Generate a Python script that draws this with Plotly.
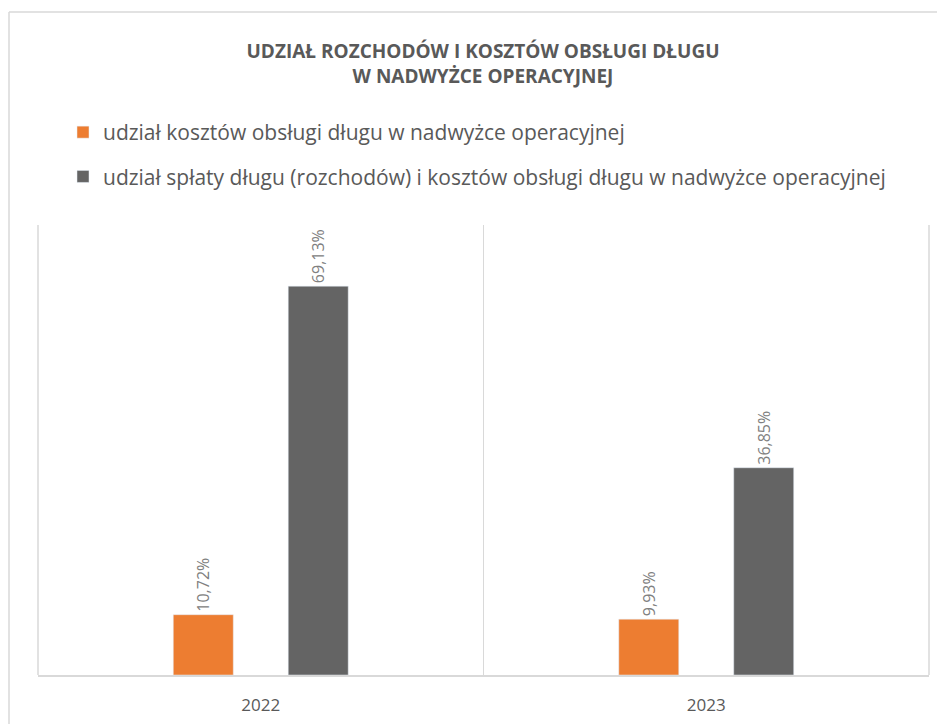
import plotly.graph_objects as go

years = ["2022", "2023"]
koszty = [10.72, 9.93]
splaty = [69.13, 36.85]
name_koszty = "udział kosztów obsługi długu w nadwyżce operacyjnej"
name_splaty = "udział spłaty długu (rozchodów) i kosztów obsługi długu w nadwyżce operacyjnej"
title_text = "UDZIAŁ ROZCHODÓW I KOSZTÓW OBSŁUGI DŁUGU<br>W NADWYŻCE OPERACYJNEJ"

FONT = "Open Sans"
W, H = 945, 724
OFF = 8  # page body margin offset
L, R, T, B = 38 - OFF, W - (929 - OFF), 225 - OFF, H - (675 - OFF)
PW, PH = W - L - R, H - T - B


def px_x(sx):
    return (sx - OFF - L) / PW


def px_y(sy):
    return (H - B - (sy - OFF)) / PH


fig = go.Figure()
for vals, nm, col, grp in [(koszty, name_koszty, "#ED7D31", "a"),
                           (splaty, name_splaty, "#646464", "b")]:
    fig.add_trace(go.Bar(x=years, y=vals, name=nm, marker_color=col,
                         texttemplate="%{y:.2f}%", textposition="outside", textangle=-90,
                         constraintext="none",
                         textfont=dict(family=FONT, size=16, color="#808080"),
                         cliponaxis=False, legendgroup=grp))

fig.update_layout(
    width=W, height=H,
    margin=dict(l=L, r=R, t=T, b=B, autoexpand=False),
    paper_bgcolor="white", plot_bgcolor="white",
    separators=", ",
    barmode="group", bargap=0.484, bargroupgap=0.478,
    title=dict(text=title_text, x=(483 - OFF) / W, xanchor="center",
               y=1 - (58 - OFF) / H, yanchor="middle",
               font=dict(family=FONT, size=19, color="#595959", weight="bold")),
    legend=dict(orientation="v", x=(63 - OFF) / W, xanchor="left", xref="container",
                y=1 - (112 - OFF) / H, yanchor="top", yref="container",
                font=dict(family=FONT, size=21, color="#595959"),
                traceorder="grouped", tracegroupgap=14, bgcolor="rgba(0,0,0,0)"),
    showlegend=True,
    xaxis=dict(type="category", tickson="boundaries", showgrid=True, gridcolor="#D9D9D9",
               gridwidth=1, showline=True, linecolor="#D9D9D9", linewidth=1.5,
               ticks="", ticklabelstandoff=14,
               tickfont=dict(family=FONT, size=17, color="#595959")),
    yaxis=dict(range=[0, 80], showgrid=False, showticklabels=False, zeroline=False,
               showline=False),
)

# plot-area side lines
for xv in (0, 1):
    fig.add_shape(type="line", xref="paper", yref="paper", x0=xv, x1=xv, y0=0, y1=1,
                  line=dict(color="#D9D9D9", width=1.5), layer="below")

# outer chart border (top and left)
fig.add_shape(type="line", xref="paper", yref="paper",
              x0=px_x(9), x1=px_x(960), y0=px_y(12), y1=px_y(12),
              line=dict(color="#D9D9D9", width=1.5))
fig.add_shape(type="line", xref="paper", yref="paper",
              x0=px_x(9), x1=px_x(9), y0=px_y(12), y1=px_y(740),
              line=dict(color="#D9D9D9", width=1.5))

fig.write_html("out.html")
